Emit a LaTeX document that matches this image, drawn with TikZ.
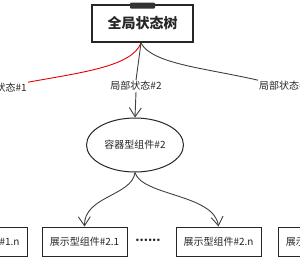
\documentclass[tikz,border=0pt]{standalone}
\usepackage{fontspec}
\setmainfont{Noto Sans CJK SC}
\usetikzlibrary{shapes.geometric,arrows.meta}
\begin{document}
\begin{tikzpicture}[x=1pt,y=-1pt,
  every node/.style={font=\fontsize{10}{12}\selectfont,text=black!85},
  comp/.style={draw=black!85,line width=1pt,minimum width=85pt,minimum height=29pt,inner sep=0pt},
  lab/.style={inner sep=1pt},
  conn/.style={draw=black!75,line width=0.9pt},
  tip/.style={-{Straight Barb[length=9pt,width=12pt,line width=0.9pt]}}]
\useasboundingbox (0,0) rectangle (300,263);
\clip (0,0) rectangle (300,263);
% title box
\node[draw=black!85,line width=1.3pt,minimum width=101pt,minimum height=37pt,inner sep=0pt,
  font=\fontsize{14}{16}\selectfont\bfseries] (root) at (142.5,23.5) {全局状态树};
\node[fill=black!80,rounded corners=1pt,minimum width=25pt,minimum height=6pt,inner sep=0pt] (tab) at (142.5,5.5) {};
\coordinate (rb) at (141,43);
% labels
\node[lab,anchor=east] (l1) at (28,88) {局部状态\#1};
\node[lab] (l2) at (136,86) {局部状态\#2};
\node[lab,anchor=west] (l3) at (258,86) {局部状态\#3};
% ellipse
\node[ellipse,draw=black!85,line width=1pt,minimum width=97pt,minimum height=54pt,inner sep=0pt] (cont) at (135,145) {容器型组件\#2};
% bottom boxes
\node[comp] (b1) at (-15.5,241.5) {展示型组件\#1.n};
\node[comp] (b2) at (84.5,241.5) {展示型组件\#2.1};
\node[comp] (b3) at (218.5,241.5) {展示型组件\#2.n};
\node[comp] (b4) at (320.5,241.5) {展示型组件\#3.1};
\node[inner sep=0pt,font=\fontsize{12}{12}\selectfont\bfseries] (dots) at (148,240) {......};
% connectors
\draw[conn,draw=red!90!black] (rb) .. controls (132,66) and (85,72) .. (l1.north east);
\draw[conn] (rb) .. controls (152,64) and (205,68) .. (l3.north west);
\draw[conn] (rb) -- (l2.north);
\draw[conn,tip] (l2.south) -- (cont.north);
\draw[conn,tip] (cont.south) .. controls (132,196) and (84,196) .. (b2.north);
\draw[conn,tip] (cont.south) .. controls (142,196) and (214,194) .. (b3.north);
\end{tikzpicture}
\end{document}
